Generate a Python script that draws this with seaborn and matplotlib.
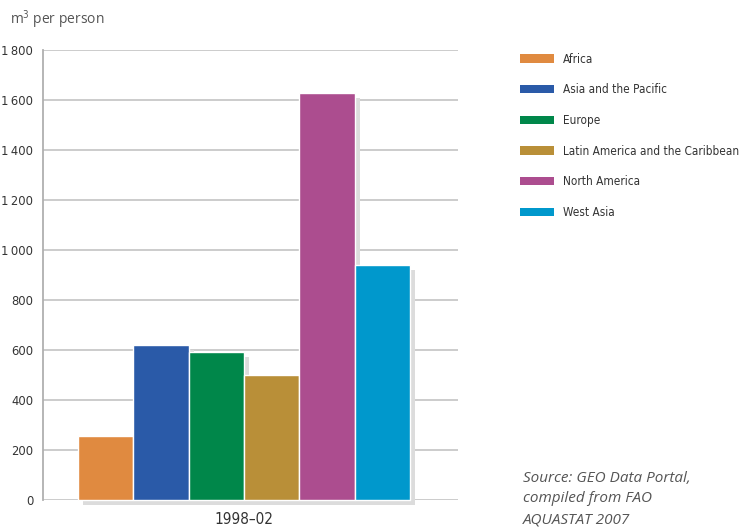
import matplotlib
matplotlib.use("Agg")
import matplotlib.pyplot as plt
import matplotlib.patheffects as pe
from matplotlib.patches import Patch
import pandas as pd
import seaborn as sns

regions = ["Africa", "Asia and the Pacific", "Europe",
           "Latin America and the Caribbean", "North America", "West Asia"]
values = [255, 620, 592, 502, 1630, 940]
colors = ["#e08a40", "#2a5aa8", "#00874a", "#b98f38", "#ac4d8f", "#0098cc"]
period = "1998\u201302"
yticks = [0, 200, 400, 600, 800, 1000, 1200, 1400, 1600, 1800]
ytick_labels = ["0", "200", "400", "600", "800", "1\u2009000", "1\u2009200", "1\u2009400", "1\u2009600", "1\u2009800"]

df = pd.DataFrame({"period": [period] * len(regions), "region": regions, "value": values})
palette = dict(zip(regions, colors))

sns.set_style("white")
plt.rcParams["font.family"] = ["DejaVu Sans"]
plt.rcParams["font.stretch"] = "condensed"

fig = plt.figure(figsize=(7.42, 5.28), dpi=100)
ax = fig.add_axes([43 / 742, 28 / 528, 415 / 742, 450 / 528])

sns.barplot(data=df, x="period", y="value", hue="region", hue_order=regions,
            palette=palette, saturation=1, width=0.8, legend=False, ax=ax,
            edgecolor="white", linewidth=1, zorder=3)

# grey drop shadow behind each bar
for bar in ax.patches:
    bar.set_clip_on(False)
    bar.set_path_effects([pe.SimplePatchShadow(offset=(3.6, -3.6), shadow_rgbFace="#dcdcdc", alpha=1),
                          pe.Normal()])

ax.set_ylim(0, 1800)
ax.set_xlim(-0.484, 0.516)
ax.set_yticks(yticks)
ax.set_yticklabels(ytick_labels)
for y in yticks:
    ax.axhline(y, color="#c8c8c8", linewidth=1.3, zorder=1)
ax.set_xlabel("")
ax.set_ylabel("")
for s in ["top", "right", "bottom"]:
    ax.spines[s].set_visible(False)
ax.spines["left"].set_color("#b0b0b0")
ax.spines["left"].set_linewidth(1.3)
ax.tick_params(axis="y", length=5, width=1.2, color="#b0b0b0", labelsize=9.3, labelcolor="#333333", pad=2)
ax.tick_params(axis="x", length=0, labelsize=11, labelcolor="#333333", pad=9)

fig.text(10 / 742, 1 - 20 / 528, "m$^3$ per person", fontsize=10, color="#555555",
         family=["Open Sans", "DejaVu Sans"], fontstretch="normal", va="center")

handles = [Patch(facecolor=c, edgecolor="none") for c in colors]
fig.legend(handles, regions, loc="upper left", bbox_to_anchor=(509 / 742, 1 - 42 / 528),
           frameon=False, fontsize=8.5, handlelength=2.9, handleheight=0.7,
           labelspacing=1.5, handletextpad=0.75, labelcolor="#333333")

fig.text(523 / 742, 1 - 471 / 528, "Source: GEO Data Portal,\ncompiled from FAO\nAQUASTAT 2007",
         fontsize=11, style="italic", color="#555555", family=["Open Sans", "DejaVu Sans"],
         fontstretch="normal", va="top", linespacing=1.5)

fig.savefig("out.png", dpi=100)
